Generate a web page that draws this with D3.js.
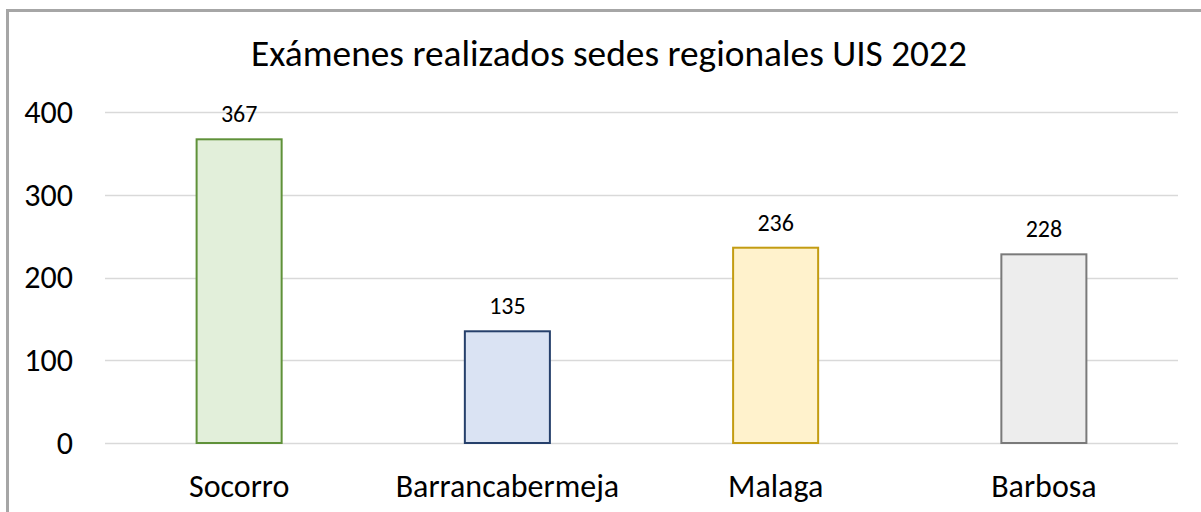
<!DOCTYPE html>
<html>
<head>
<meta charset="utf-8">
<script src="https://cdn.jsdelivr.net/npm/d3@7"></script>
<style>
  body { margin: 0; background: #fff; }
  text { font-family: Carlito, Lato, "Open Sans", sans-serif; fill: #000; }
</style>
</head>
<body>
<div id="chart"></div>
<script>
(function() {

    var width = 1201,
        height = 512;

    var title = "Exámenes realizados sedes regionales UIS 2022";
    var sedes = ["Socorro", "Barrancabermeja", "Malaga", "Barbosa"];
    var examenes = [367, 135, 236, 228];
    var fills = ["#e2efda", "#dae3f3", "#fff2cc", "#ededed"];
    var strokes = ["#5f9139", "#26406b", "#c39c12", "#7a7a7a"];
    var yTicks = [0, 100, 200, 300, 400];

    var margin = {top: 112, right: 23, bottom: 69, left: 105};

    var svg = d3.select("#chart")
        .append("svg")
        .attr("width", width)
        .attr("height", height);

    // outer frame (runs off the right and bottom edges)
    svg.append("rect")
        .attr("x", 7.5)
        .attr("y", 10.5)
        .attr("width", width + 10)
        .attr("height", height + 10)
        .attr("fill", "none")
        .attr("stroke", "#a6a6a6")
        .attr("stroke-width", 3);

    var x = d3.scaleBand()
        .domain(sedes)
        .range([margin.left, width - margin.right])
        .paddingInner(0.683)
        .paddingOuter(0.3415);

    var y = d3.scaleLinear()
        .domain([0, 400])
        .range([height - margin.bottom, margin.top]);

    // gridlines
    svg.append("g")
        .selectAll("line")
        .data(yTicks)
        .enter().append("line")
        .attr("x1", margin.left)
        .attr("x2", width - margin.right)
        .attr("y1", function(d) { return Math.round(y(d)) + 0.5; })
        .attr("y2", function(d) { return Math.round(y(d)) + 0.5; })
        .attr("stroke", "#d9d9d9")
        .attr("stroke-width", 1.5);

    // y axis labels
    var yAxis = svg.append("g")
        .attr("transform", "translate(73,0)")
        .call(d3.axisLeft(y).tickValues(yTicks).tickSize(0).tickPadding(0));
    yAxis.select(".domain").remove();
    yAxis.selectAll("text")
        .attr("font-size", 32)
        .attr("font-family", null)
        .attr("dy", "0.32em");

    // bars
    svg.append("g")
        .selectAll("rect")
        .data(examenes)
        .enter().append("rect")
        .attr("x", function(d, i) { return x(sedes[i]); })
        .attr("width", x.bandwidth())
        .attr("y", function(d) { return y(d); })
        .attr("height", function(d) { return y(0) - y(d); })
        .attr("fill", function(d, i) { return fills[i]; })
        .attr("stroke", function(d, i) { return strokes[i]; })
        .attr("stroke-width", 2);

    // value labels
    svg.append("g")
        .selectAll("text")
        .data(examenes)
        .enter().append("text")
        .attr("x", function(d, i) { return x(sedes[i]) + x.bandwidth() / 2; })
        .attr("y", function(d) { return y(d) - 17; })
        .attr("text-anchor", "middle")
        .attr("font-size", 24)
        .text(function(d) { return d; });

    // category labels
    var xAxis = svg.append("g")
        .attr("transform", "translate(0," + (height - margin.bottom) + ")")
        .call(d3.axisBottom(x).tickSize(0).tickPadding(0));
    xAxis.select(".domain").remove();
    xAxis.selectAll("text")
        .attr("font-size", 32)
        .attr("font-family", null)
        .attr("dy", null)
        .attr("y", 54);

    // title
    var t = svg.append("text")
        .attr("x", 609)
        .attr("y", 66)
        .attr("text-anchor", "middle")
        .attr("font-size", 32)
        .text(title);
    var w = t.node().getComputedTextLength();
    t.attr("font-size", 32 * 716 / w);

})();
</script>
</body>
</html>
